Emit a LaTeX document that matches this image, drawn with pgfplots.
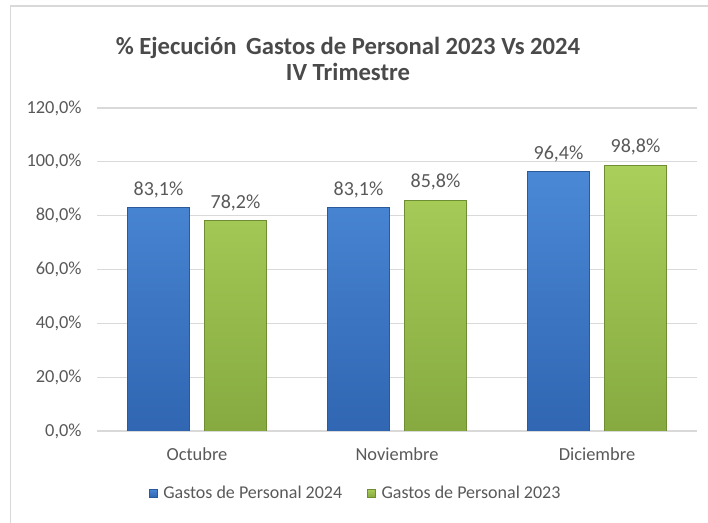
\documentclass[border=0pt]{standalone}
\usepackage{pgfplots}
\pgfplotsset{compat=1.18}
\usepackage{fontspec}
\setmainfont{Carlito}
\definecolor{txt}{HTML}{595959}
\definecolor{ttl}{HTML}{4A4A4A}
\definecolor{gridc}{HTML}{D9D9D9}
\definecolor{bluetop}{HTML}{4A88D6}
\definecolor{bluebot}{HTML}{3066B2}
\definecolor{blueedge}{HTML}{2A5A9C}
\definecolor{greentop}{HTML}{AACF5A}
\definecolor{greenbot}{HTML}{86AA40}
\definecolor{greenedge}{HTML}{6F8E33}
\begin{document}
\begin{tikzpicture}
\path[use as bounding box] (0,0) rectangle (531pt,-392.25pt);
\draw[gridc, line width=1pt] (7.9pt,-392.25pt) -- (7.9pt,-4.5pt) -- (531pt,-4.5pt);
\node[font=\fontsize{18.5}{20.5}\selectfont\bfseries, text=ttl, align=center] at (261pt,-44pt)
  {\% Ejecución\, Gastos de Personal 2023 Vs 2024\\[-1pt] IV Trimestre};
\begin{axis}[
  at={(72.75pt,-323.25pt)}, anchor=south west,
  scale only axis, width=450pt, height=242.25pt,
  xmin=-0.5, xmax=2.5, ymin=0, ymax=120,
  ytick={0,20,...,120},
  xtick={0,1,2},
  xticklabels={Octubre,Noviembre,Diciembre},
  major tick length=0pt,
  axis line style={draw=none},
  ymajorgrids, grid style={gridc, line width=0.9pt},
  /pgf/number format/assume math mode=true,
  yticklabel={\pgfmathprintnumber[fixed,fixed zerofill,precision=1,use comma]{\tick}\%},
  ticklabel style={font=\fontsize{13.8}{15}\selectfont, text=txt},
  yticklabel style={xshift=-8pt},
  xticklabel style={yshift=-9pt},
  ybar=11.25pt, bar width=46.5pt,
  nodes near coords={\pgfmathprintnumber[fixed,fixed zerofill,precision=1,use comma]{\pgfplotspointmeta}\%},
  nodes near coords style={font=\fontsize{15}{17}\selectfont, text=txt, yshift=3.5pt},
  legend style={at={(0.432,-0.192)}, anchor=center, draw=none, fill=none,
    legend columns=2, font=\fontsize{13.5}{15}\selectfont, text=txt,
    /tikz/every even column/.style={column sep=17pt}},
  legend image code/.code={%
    \pgfpathrectangle{\pgfpoint{0pt}{-3pt}}{\pgfpoint{8.5pt}{6pt}}\pgfusepath{use as bounding box}%
    \path[#1] (0pt,-3pt) rectangle (6pt,3pt);},
]
\addplot[top color=bluetop, bottom color=bluebot, draw=blueedge, line width=0.6pt]
  coordinates {(0,83.1) (1,83.1) (2,96.4)};
\addplot[top color=greentop, bottom color=greenbot, draw=greenedge, line width=0.6pt]
  coordinates {(0,78.2) (1,85.8) (2,98.8)};
\legend{Gastos de Personal 2024, Gastos de Personal 2023}
\end{axis}
\end{tikzpicture}
\end{document}
